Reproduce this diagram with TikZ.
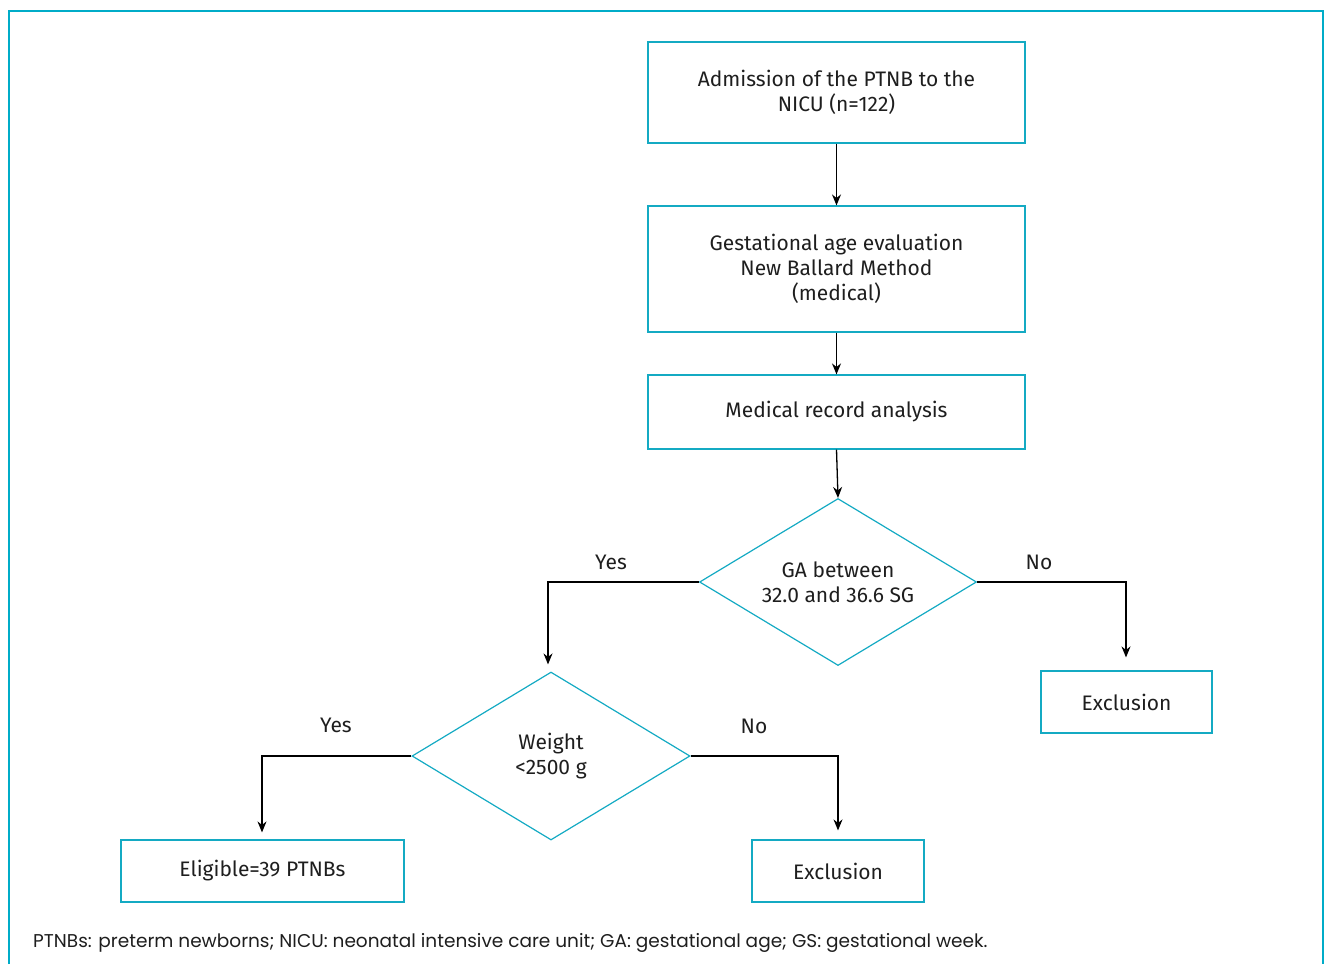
\documentclass[tikz,border=0pt]{standalone}
\usepackage{fontspec}
\setmainfont{Fira Sans}
\newfontfamily\capfont{Poppins}
\usetikzlibrary{shapes.geometric,arrows.meta}
\definecolor{frameteal}{RGB}{0,172,200}
\definecolor{boxteal}{RGB}{20,170,195}
\definecolor{txt}{RGB}{30,30,30}
\begin{document}
\begin{tikzpicture}[x=1pt,y=-1pt,
  box/.style={draw=boxteal,line width=1.2pt,rectangle,inner sep=0pt,align=center,
    text=txt,font=\fontsize{21}{25}\selectfont},
  dia/.style={draw=boxteal,line width=1.2pt,diamond,inner sep=0pt,align=center,
    shape aspect=1.66,text=txt,font=\fontsize{21}{25}\selectfont},
  arr/.style={draw=black,line width=1.3pt,-{Stealth[length=11pt,width=9pt]}},
  lbl/.style={text=txt,font=\fontsize{21}{25}\selectfont,inner sep=0pt}]
\useasboundingbox (0,0) rectangle (1330,964);
\draw[frameteal,line width=2pt] (9,964) -- (9,11) -- (1323,11) -- (1323,964);
\node[box,minimum width=377pt,minimum height=101pt] (b1) at (836.5,92.5) {Admission of the PTNB to the\\NICU (n=122)};
\node[box,minimum width=377pt,minimum height=126pt] (b2) at (836.5,269) {Gestational age evaluation\\New Ballard Method\\(medical)};
\node[box,minimum width=377pt,minimum height=74pt] (b3) at (836.5,412) {Medical record analysis};
\node[dia,minimum width=277pt,minimum height=167pt] (d1) at (838,582) {GA between\\32.0 and 36.6 SG};
\node[box,minimum width=171pt,minimum height=62pt] (e1) at (1126.5,702) {Exclusion};
\node[dia,minimum width=278pt,minimum height=168pt] (d2) at (551,756) {Weight\\<2500 g};
\node[box,minimum width=283pt,minimum height=62pt] (el) at (262.5,871) {Eligible=39 PTNBs};
\node[box,minimum width=172pt,minimum height=62pt] (e2) at (838,871) {Exclusion};
\coordinate (c1) at (548,582);
\coordinate (c2) at (1126,582);
\coordinate (c3) at (262,756);
\coordinate (c4) at (838,756);
\draw[arr] (b1.south) -- (b2.north);
\draw[arr] (b2.south) -- (b3.north);
\draw[arr] (b3.south) -- (d1.north);
\draw[arr] (d1.west) -- (c1) -- ([yshift=7pt]d2.north -| c1);
\draw[arr] (d1.east) -- (c2) -- ([yshift=13pt]e1.north -| c2);
\draw[arr] (d2.west) -- (c3) -- ([yshift=7pt]el.north -| c3);
\draw[arr] (d2.east) -- (c4) -- ([yshift=9pt]e2.north -| c4);
\node[lbl] (y1) at (611,562) {Yes};
\node[lbl] (n1) at (1039,562) {No};
\node[lbl] (y2) at (336,725) {Yes};
\node[lbl] (n2) at (754,726) {No};
\node[anchor=west,inner sep=0pt,text=txt,font=\capfont\fontsize{18.5}{20}\selectfont] (cap) at (33,943) {PTNBs: preterm newborns; NICU: neonatal intensive care unit; GA: gestational age; GS: gestational week.};
\end{tikzpicture}
\end{document}
